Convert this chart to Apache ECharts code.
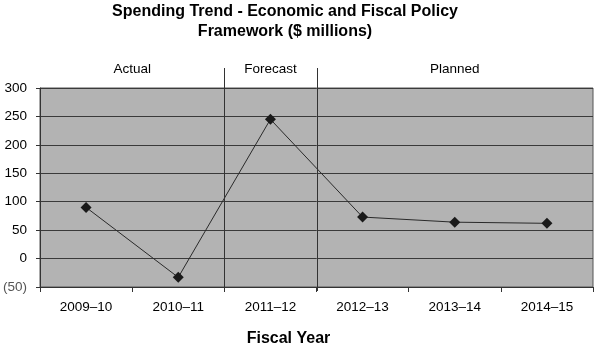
<!DOCTYPE html>
<html>
<head>
<meta charset="utf-8">
<script src="https://cdn.jsdelivr.net/npm/echarts@6/dist/echarts.min.js"></script>
<style>
html,body{margin:0;padding:0;background:#fff;}
#chart{width:595px;height:352px;}
</style>
</head>
<body>
<div id="chart"></div>
<script>
var years = ['2009\u201310','2010\u201311','2011\u201312','2012\u201313','2013\u201314','2014\u201315'];
var spending = [90, -33, 245, 73, 64, 62];
var periods = ['Actual','Forecast','Planned'];
var periodBounds = [[0,2],[2,3],[3,6]];

var myChart = echarts.init(document.getElementById('chart'));

var areaData = [];
for(var i=0;i<periods.length;i++){
	areaData.push([{name:periods[i], xAxis:periodBounds[i][0]}, {xAxis:periodBounds[i][1]}]);
}

var option = {
	animation: false,
	textStyle: {fontFamily: 'Arial, "Liberation Sans", sans-serif'},
	title: {
		text: 'Spending Trend - Economic and Fiscal Policy\nFramework ($ millions)',
		left: 280,
		top: -3,
		textAlign: 'center',
		textStyle: {fontSize: 16, fontWeight: 'bold', color: '#000', lineHeight: 20, fontFamily: 'Arial, "Liberation Sans", sans-serif'}
	},
	grid: {
		left: 39, right: 2, top: 88, bottom: 64,
		show: true,
		backgroundColor: '#b3b3b3',
		borderColor: '#555',
		borderWidth: 1
	},
	xAxis: [{
		type: 'category',
		data: years,
		boundaryGap: true,
		name: 'Fiscal Year',
		nameLocation: 'middle',
		nameGap: 44,
		nameTextStyle: {fontSize: 16, fontWeight: 'bold', color: '#000', padding: [0, 56, 0, 0]},
		axisLine: {onZero: false, lineStyle: {color: '#333'}},
		axisTick: {show: true, length: 5, lineStyle: {color: '#333'}},
		axisLabel: {fontSize: 13.5, color: '#000', margin: 13}
	}, {
		type: 'value',
		min: 0, max: 6,
		show: false
	}],
	yAxis: {
		type: 'value',
		min: -50, max: 300, interval: 50,
		axisLine: {show: true, lineStyle: {color: '#333'}},
		axisTick: {show: true, length: 4, lineStyle: {color: '#333'}},
		splitLine: {lineStyle: {color: '#3a3a3a', width: 1}},
		axisLabel: {
			fontSize: 13.5,
			margin: 13,
			color: function(v){ return v < 0 ? '#555' : '#000'; },
			formatter: function(v){ return v < 0 ? '(' + Math.abs(v) + ')' : String(v); }
		}
	},
	series: [{
		name: 'Spending',
		type: 'line',
		data: spending,
		symbol: 'diamond',
		symbolSize: 11,
		itemStyle: {color: '#1a1a1a'},
		lineStyle: {color: '#2a2a2a', width: 1}
	}, {
		name: 'periods',
		type: 'line',
		xAxisIndex: 1,
		data: [],
		markArea: {
			silent: true,
			itemStyle: {color: 'rgba(0,0,0,0)'},
			label: {show: true, position: 'top', distance: 12, fontSize: 13.5, color: '#000'},
			data: areaData
		}
	}]
};
myChart.setOption(option);

// divider lines between the periods, reaching above the plot
var yTop = myChart.convertToPixel({yAxisIndex:0}, 300);
var yBot = myChart.convertToPixel({yAxisIndex:0}, -50);
var lines = [];
for(var j=1;j<periodBounds.length;j++){
	var x = Math.round(myChart.convertToPixel({xAxisIndex:1}, periodBounds[j][0])) + 0.5;
	lines.push({
		type: 'line',
		shape: {x1: x, y1: yTop - 20, x2: x, y2: yBot + 4},
		style: {stroke: '#333', lineWidth: 1},
		z: 10
	});
}
myChart.setOption({graphic: lines});
</script>
</body>
</html>
